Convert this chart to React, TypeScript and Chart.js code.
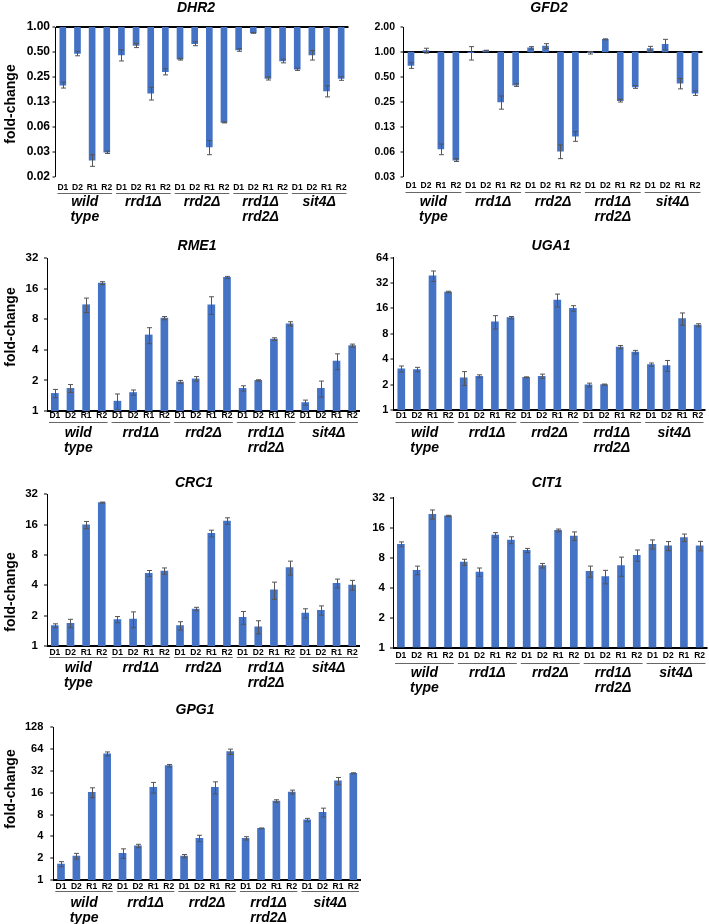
import React, { useEffect, useRef } from "react";
import { Chart, registerables } from "chart.js";

Chart.register(...registerables);

const FONT = "'Liberation Sans', Arial, sans-serif";
const BAR_COLOR = "#4472C4";
const ERR_COLOR = "#555555";

const categories = [
  "D1", "D2", "R1", "R2", "D1", "D2", "R1", "R2", "D1", "D2",
  "R1", "R2", "D1", "D2", "R1", "R2", "D1", "D2", "R1", "R2",
];
const strainLabels: string[][] = [["wild", "type"], ["rrd1Δ"], ["rrd2Δ"], ["rrd1Δ", "rrd2Δ"], ["sit4Δ"]];

// DHR2
const dhr2Values = [0.2, 0.48, 0.025, 0.031, 0.46, 0.6, 0.16, 0.29, 0.41, 0.63, 0.036, 0.071, 0.53, 0.85, 0.24, 0.39, 0.31, 0.46, 0.17, 0.24];
const dhr2Errors = [0.016, 0.03, 0.004, 0.001, 0.07, 0.035, 0.028, 0.025, 0.01, 0.035, 0.007, 0.001, 0.02, 0.01, 0.01, 0.02, 0.01, 0.06, 0.026, 0.012];
const dhr2Ticks = [1, 0.5, 0.25, 0.125, 0.0625, 0.03125, 0.015625];

// GFD2
const gfd2Values = [0.69, 1.04, 0.068, 0.05, 0.98, 1.04, 0.25, 0.4, 1.12, 1.18, 0.064, 0.097, 0.98, 1.42, 0.26, 0.38, 1.1, 1.24, 0.42, 0.32];
const gfd2Errors = [0.055, 0.07, 0.01, 0.002, 0.18, 0.01, 0.045, 0.015, 0.04, 0.08, 0.012, 0.013, 0.035, 0.02, 0.01, 0.015, 0.07, 0.18, 0.06, 0.02];
const gfd2Ticks = [2, 1, 0.5, 0.25, 0.125, 0.0625, 0.03125];

// RME1
const rme1Values = [1.49, 1.67, 11.1, 18.1, 1.25, 1.52, 5.6, 8.2, 1.93, 2.07, 11.1, 20.6, 1.67, 2.0, 5.1, 7.2, 1.21, 1.67, 3.1, 4.4];
const rme1Errors = [0.14, 0.15, 1.8, 0.6, 0.22, 0.09, 1.0, 0.3, 0.07, 0.11, 2.2, 0.5, 0.1, 0.03, 0.15, 0.35, 0.07, 0.3, 0.55, 0.15];
const rme1Ticks = [1, 2, 4, 8, 16, 32];

// UGA1
const uga1Values = [3.07, 3.02, 38.8, 25.0, 2.4, 2.51, 11.1, 12.4, 2.44, 2.51, 20.1, 16.0, 1.98, 2.0, 5.55, 4.85, 3.45, 3.36, 12.1, 10.1];
const uga1Errors = [0.25, 0.18, 5.5, 0.5, 0.45, 0.1, 2.0, 0.4, 0.03, 0.15, 3.5, 1.2, 0.1, 0.03, 0.25, 0.23, 0.15, 0.5, 2.0, 0.4];
const uga1Ticks = [1, 2, 4, 8, 16, 32, 64];

// CRC1
const crc1Values = [1.59, 1.68, 15.9, 26.5, 1.83, 1.85, 5.26, 5.55, 1.59, 2.33, 13.1, 17.4, 1.92, 1.55, 3.6, 6.0, 2.12, 2.26, 4.19, 4.03];
const crc1Errors = [0.07, 0.16, 1.3, 0.3, 0.13, 0.33, 0.35, 0.4, 0.15, 0.09, 1.0, 1.3, 0.28, 0.23, 0.7, 0.95, 0.22, 0.24, 0.42, 0.45];
const crc1Ticks = [1, 2, 4, 8, 16, 32];

// CIT1
const cit1Values = [10.9, 5.97, 21.8, 21.0, 7.2, 5.74, 13.5, 12.0, 9.45, 6.64, 15.0, 13.2, 5.83, 5.16, 6.64, 8.44, 10.9, 10.5, 12.7, 10.5];
const cit1Errors = [0.6, 0.6, 2.3, 0.3, 0.5, 0.55, 0.75, 0.95, 0.45, 0.35, 0.5, 1.3, 0.75, 0.8, 1.45, 1.1, 1.15, 1.1, 1.1, 1.15];
const cit1Ticks = [1, 2, 4, 8, 16, 32];

// GPG1
const gpg1Values = [1.66, 2.14, 16.2, 55, 2.34, 2.95, 19.0, 37.8, 2.14, 3.76, 19.0, 59, 3.76, 5.17, 12.3, 16.4, 6.74, 8.6, 23.3, 29.7];
const gpg1Errors = [0.13, 0.19, 2.5, 3.5, 0.35, 0.16, 3.2, 1.5, 0.11, 0.38, 3.6, 5, 0.2, 0.05, 0.5, 1.0, 0.35, 1.2, 2.7, 0.5];
const gpg1Ticks = [1, 2, 4, 8, 16, 32, 64, 128];

type PanelSpec = {
  title: string;
  values: number[];
  errors: number[];
  ticks: number[];
  decimals: number;
  x0: number; y0: number; w: number; h: number;
  areaL: number; areaR: number; areaT: number; areaB: number;
  titleX: number; titleY: number;
  xPad: number;
  underlineY: number;
  groupY: number;
  yTickSize: number;
  yTickPad: number;
  barW: number;
  foldY?: number;
};

const panels: PanelSpec[] = [
  { title: "DHR2", values: dhr2Values, errors: dhr2Errors, ticks: dhr2Ticks, decimals: 2,
    x0: 0, y0: 0, w: 360, h: 228, areaL: 55.5, areaR: 348.5, areaT: 27, areaB: 177,
    titleX: 196, titleY: 8.5, xPad: 5.2, underlineY: 192.5, groupY: 202, yTickSize: 12, yTickPad: 2.5, barW: 6, foldY: 104 },
  { title: "GFD2", values: gfd2Values, errors: gfd2Errors, ticks: gfd2Ticks, decimals: 2,
    x0: 356, y0: 0, w: 360, h: 228, areaL: 403.5, areaR: 702.5, areaT: 27, areaB: 177,
    titleX: 549, titleY: 8.5, xPad: 3.2, underlineY: 191.7, groupY: 201.7, yTickSize: 10.5, yTickPad: 5.5, barW: 6 },
  { title: "RME1", values: rme1Values, errors: rme1Errors, ticks: rme1Ticks, decimals: 0,
    x0: 0, y0: 230, w: 370, h: 225, areaL: 47, areaR: 360, areaT: 258, areaB: 411,
    titleX: 197, titleY: 246, xPad: 0, underlineY: 422.3, groupY: 432.7, yTickSize: 11.5, yTickPad: 5.7, barW: 7, foldY: 327 },
  { title: "UGA1", values: uga1Values, errors: uga1Errors, ticks: uga1Ticks, decimals: 0,
    x0: 350, y0: 230, w: 370, h: 225, areaL: 393.5, areaR: 705.5, areaT: 257.5, areaB: 410,
    titleX: 551, titleY: 246, xPad: 0.9, underlineY: 422, groupY: 432.7, yTickSize: 11, yTickPad: 2.2, barW: 7 },
  { title: "CRC1", values: crc1Values, errors: crc1Errors, ticks: crc1Ticks, decimals: 0,
    x0: 0, y0: 455, w: 370, h: 240, areaL: 47, areaR: 360, areaT: 494.3, areaB: 646,
    titleX: 194, titleY: 483, xPad: 1.5, underlineY: 657.3, groupY: 668.3, yTickSize: 11.5, yTickPad: 6, barW: 7, foldY: 592 },
  { title: "CIT1", values: cit1Values, errors: cit1Errors, ticks: cit1Ticks, decimals: 0,
    x0: 350, y0: 455, w: 370, h: 240, areaL: 393, areaR: 707.5, areaT: 497.7, areaB: 647.5,
    titleX: 547, titleY: 483.5, xPad: 3.4, underlineY: 662.5, groupY: 672.7, yTickSize: 11.5, yTickPad: 5, barW: 7 },
  { title: "GPG1", values: gpg1Values, errors: gpg1Errors, ticks: gpg1Ticks, decimals: 0,
    x0: 0, y0: 690, w: 370, h: 234, areaL: 53.3, areaR: 361, areaT: 727.3, areaB: 880,
    titleX: 195, titleY: 710, xPad: 1.9, underlineY: 891, groupY: 903.3, yTickSize: 11, yTickPad: 7, barW: 7, foldY: 789 },
];

function Panel({ p }: { p: PanelSpec }) {
  const ref = useRef<HTMLCanvasElement | null>(null);

  useEffect(() => {
    const canvas = ref.current;
    if (!canvas) return;
    const ox = p.x0;
    const oy = p.y0;
    const yMin = Math.min(...p.ticks);
    const yMax = Math.max(...p.ticks);

    const decor = {
      id: "decor",
      afterDatasetsDraw(chart: any) {
        const ctx = chart.ctx;
        const ys = chart.scales.y;
        const meta = chart.getDatasetMeta(0);
        ctx.save();
        ctx.strokeStyle = ERR_COLOR;
        ctx.lineWidth = 1;
        meta.data.forEach((el: any, i: number) => {
          const v = p.values[i];
          const e = p.errors[i];
          const hi = ys.getPixelForValue(Math.min(v + e, yMax));
          const lo = ys.getPixelForValue(Math.max(v - e, yMin));
          const cx = Math.round(el.x) + 0.5;
          ctx.beginPath();
          ctx.moveTo(cx, hi);
          ctx.lineTo(cx, lo);
          ctx.moveTo(cx - 2.5, hi);
          ctx.lineTo(cx + 2.5, hi);
          ctx.moveTo(cx - 2.5, lo);
          ctx.lineTo(cx + 2.5, lo);
          ctx.stroke();
        });
        ctx.restore();
      },
      afterDraw(chart: any) {
        const ctx = chart.ctx;
        const xs = chart.scales.x;
        ctx.save();
        ctx.fillStyle = "#000";
        ctx.font = `italic bold 14px ${FONT}`;
        ctx.textAlign = "center";
        ctx.textBaseline = "middle";
        ctx.fillText(p.title, p.titleX - ox, p.titleY - oy);
        if (p.foldY !== undefined) {
          ctx.save();
          ctx.translate(11.5 - ox, p.foldY - oy);
          ctx.rotate(-Math.PI / 2);
          ctx.font = `bold 14px ${FONT}`;
          ctx.fillText("fold-change", 0, 0);
          ctx.restore();
        }
        const pitch = xs.getPixelForTick(1) - xs.getPixelForTick(0);
        strainLabels.forEach((lines, g) => {
          const a = xs.getPixelForTick(g * 4);
          const b = xs.getPixelForTick(g * 4 + 3);
          const uy = Math.round(p.underlineY - oy) + 0.5;
          ctx.strokeStyle = "#666";
          ctx.lineWidth = 1;
          ctx.beginPath();
          ctx.moveTo(a - pitch / 2 + 2, uy);
          ctx.lineTo(b + pitch / 2 - 2, uy);
          ctx.stroke();
          ctx.font = `italic bold 14px ${FONT}`;
          ctx.fillStyle = "#000";
          const cx = (a + b) / 2;
          lines.forEach((t, k) => {
            ctx.fillText(t, cx, p.groupY - oy + k * 15);
          });
        });
        ctx.restore();
      },
    };

    const chart = new Chart(canvas, {
      type: "bar",
      data: {
        labels: categories,
        datasets: [
          {
            data: p.values.map((v) => [1, v]) as any,
            backgroundColor: BAR_COLOR,
            borderWidth: 0,
            barThickness: p.barW,
          },
        ],
      },
      options: {
        responsive: false,
        animation: false,
        events: [],
        layout: {
          padding: { left: 0, top: p.areaT - oy, right: ox + p.w - p.areaR, bottom: 0 },
        },
        plugins: {
          legend: { display: false },
          tooltip: { enabled: false },
          title: { display: false },
        },
        scales: {
          x: {
            type: "category",
            offset: true,
            grid: { display: false, drawTicks: false },
            border: { display: false },
            ticks: {
              font: { family: FONT, size: 8.5, weight: "bold" },
              color: "#000",
              padding: p.xPad,
              autoSkip: false,
              minRotation: 0,
              maxRotation: 0,
            },
            afterFit: (s: any) => {
              s.height = oy + p.h - p.areaB;
            },
          },
          y: {
            type: "logarithmic",
            min: yMin,
            max: yMax,
            afterBuildTicks: (s: any) => {
              s.ticks = p.ticks.slice().sort((a, b) => a - b).map((v) => ({ value: v }));
            },
            ticks: {
              autoSkip: false,
              font: { family: FONT, size: p.yTickSize, weight: "bold" },
              color: "#000",
              padding: p.yTickPad,
              callback: (v: any) => (p.decimals > 0 ? Number(v).toFixed(p.decimals) : String(v)),
            },
            grid: {
              drawTicks: true,
              tickLength: 3,
              tickColor: "#000",
              tickWidth: 1,
              color: (c: any) => (c.tick && c.tick.value === 1 ? "#000" : "rgba(0,0,0,0)"),
              lineWidth: (c: any) => (c.tick && c.tick.value === 1 ? 2 : 0),
            },
            border: { display: true, color: "#000", width: 1 },
            afterFit: (s: any) => {
              s.width = p.areaL - ox;
            },
          },
        },
      },
      plugins: [decor],
    } as any);

    return () => chart.destroy();
  }, [p]);

  return (
    <canvas
      ref={ref}
      width={p.w}
      height={p.h}
      style={{ position: "absolute", left: p.x0, top: p.y0, width: p.w, height: p.h }}
    />
  );
}

export default function App() {
  return (
    <div
      style={{
        position: "absolute",
        left: 0,
        top: 0,
        width: 709,
        height: 924,
        overflow: "hidden",
        background: "#fff",
      }}
    >
      {panels.map((p) => (
        <Panel key={p.title} p={p} />
      ))}
    </div>
  );
}
